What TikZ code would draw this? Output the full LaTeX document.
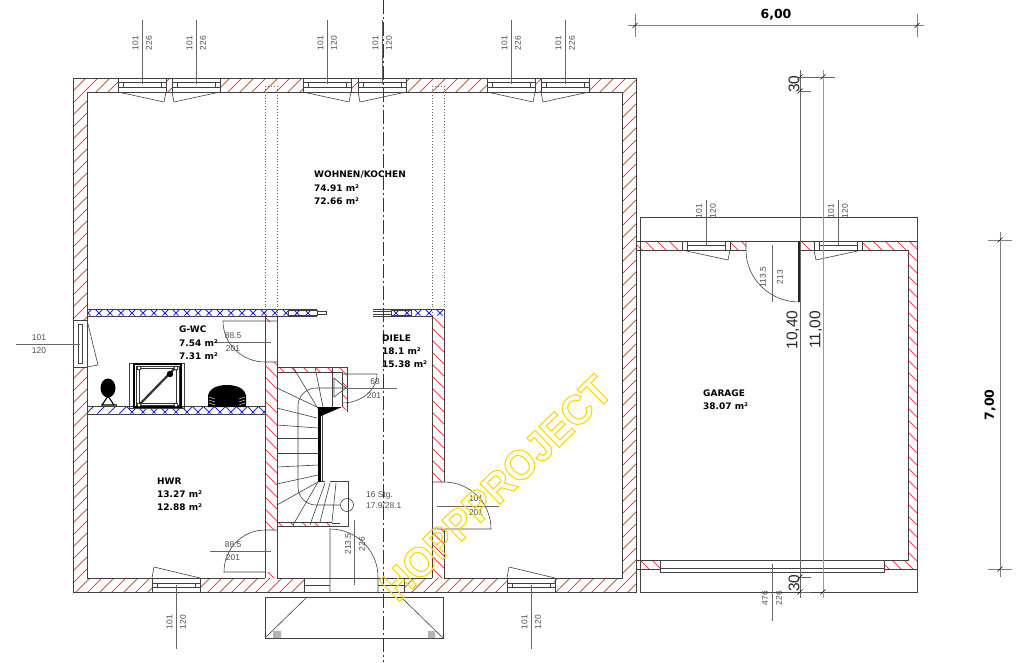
\documentclass[tikz,border=0pt]{standalone}
\usepackage{fontspec}
\setmainfont{Liberation Sans}
\newfontfamily\roomfont{DejaVu Sans}
\definecolor{hatchred}{RGB}{250,70,70}
\definecolor{hatchblue}{RGB}{30,40,235}
\definecolor{stampyellow}{RGB}{255,215,0}
\tikzset{
  wall/.style={draw=black!75, line width=.9pt},
  fine/.style={draw=black!75, line width=.6pt},
  dimline/.style={draw=black!60, line width=.8pt},
  redline/.style={draw=hatchred, line width=.8pt},
  blueline/.style={draw=hatchblue, line width=.9pt},
  dimtext/.style={inner sep=0pt, text=black!70, font=\fontsize{8.4}{10}\selectfont},
  roomtext/.style={inner sep=0pt, anchor=west, font=\roomfont\fontsize{9}{11}\selectfont\bfseries},
  bigdim/.style={inner sep=0pt, text=black!85, font=\fontsize{15.5}{17}\selectfont},
  axisdim/.style={inner sep=0pt, font=\roomfont\fontsize{12.5}{17}\selectfont\bfseries},
}
\begin{document}
\begin{tikzpicture}[x=1pt, y=-1pt]
  \useasboundingbox (0,0) rectangle (1024,662);
  % wall hatching, main house
  \begin{scope}
    \clip (73,78) rectangle (118,92) (166,78) rectangle (172,92) (220,78) rectangle (303,92)
      (352,78) rectangle (358,92) (406,78) rectangle (487,92) (536,78) rectangle (541,92)
      (590,78) rectangle (636,92)
      (73,78) rectangle (87,320) (73,367) rectangle (87,592) (622,78) rectangle (636,592)
      (73,578) rectangle (152,592) (200,578) rectangle (304,592) (404,578) rectangle (507,592)
      (554,578) rectangle (636,592);
    \foreach \d in {80,92,...,1300}
      \draw[redline] (\d,0) -- ++(-700,700);
  \end{scope}
  \begin{scope}
    \clip (265,316) rectangle (277,322) (265,362) rectangle (277,530) (265,572) rectangle (277,578)
      (432,316) rectangle (444,482) (432,529) rectangle (444,578)
      (277,367) rectangle (347,372) (342,367) rectangle (347,410) (277,522) rectangle (332,526)
      (636,241) rectangle (682,250) (730,241) rectangle (746,250) (799,241) rectangle (814,250)
      (862,241) rectangle (917,250) (908,241) rectangle (917,569)
      (636,560) rectangle (660,569) (884,560) rectangle (917,569);
    \foreach \d in {-400,-388,...,900}
      \draw[redline] (\d,0) -- ++(700,700);
  \end{scope}
  % blue hatching of the light walls
  \begin{scope}
    \clip (87,309.5) rectangle (317,315.5) (391,309.5) rectangle (444,315.5) (87,406.5) rectangle (265,413.5);
    \foreach \d in {0,11,...,900} {
      \draw[blueline] (\d,280) -- ++(-150,150);
      \draw[blueline] (\d,280) -- ++(150,150);
    }
  \end{scope}
  % outer walls
  \draw[wall] (73,78) rectangle (636,592);
  \draw[wall] (87,320) -- (87,92) -- (622,92) -- (622,578) -- (444,578) -- (444,529);
  \draw[wall] (87,367) -- (87,578) -- (265,578);
  \draw[wall] (444,482) -- (444,309) -- (373,309);
  \draw[wall] (432,578) -- (432,316) -- (373,316);
  \draw[wall] (277,578) -- (432,578);
  \draw[wall] (265,316) -- (265,578) (277,316) -- (277,578);
  \draw[wall] (87,309) -- (317,309) (87,316) -- (317,316);
  \draw[fine] (317,311) -- (326,311) -- (326,314) -- (317,314);
  \draw[fine] (288,310) rectangle (317,315) (391,310) rectangle (411,315);
  \draw[fine] (373,311) -- (391,311) (373,314) -- (391,314);
  \draw[wall] (87,406) -- (265,406) (87,414) -- (265,414);
  % dotted beams
  \foreach \bx in {265,277,432,444}
    \draw[black!60, line width=.6pt, dash pattern=on .9pt off 2pt] (\bx,86) -- (\bx,316);
  \draw[black!60, line width=.6pt, dash pattern=on .9pt off 2pt] (265,86) -- (277,86) (432,86) -- (444,86);
  % top windows
  \foreach \wx/\wh/\wt in {118/226/r, 172/226/l, 303/120/r, 358/120/l, 487/226/r, 541/226/l} {
    \draw[wall] (\wx,78) rectangle ++(48,14);
    \draw[fine] (\wx,82) -- ++(48,0) (\wx,87) -- ++(48,0) (\wx+5,82) -- ++(0,5) (\wx+43,82) -- ++(0,5);
    \draw[dimline] (\wx+24,20) -- ++(0,64);
    \node[dimtext, rotate=90] (wa\wx) at (\wx+17.5,43) {101};
    \node[dimtext, rotate=90] (wb\wx) at (\wx+31,43) {\wh};
  }
  \foreach \wx in {118,303,487}
    \draw[fine] (\wx,92) -- ++(46,10) -- ++(2,-10);
  \foreach \wx in {172,358,541}
    \draw[fine] (\wx,92) -- ++(2,10) -- ++(46,-10);
  % left window
  \draw[wall] (73,320) rectangle (87,367);
  \draw[fine] (78,324) rectangle (82,363);
  \draw[fine] (87,320) -- (98,365) -- (87,367);
  \draw[dimline] (16,344) -- (80,344);
  \node[dimtext] (leftwa) at (39,338) {101};
  \node[dimtext] (leftwb) at (39,351) {120};
  % bottom windows
  \foreach \wx in {152,507} {
    \draw[wall] (\wx,578) rectangle ++(48,14);
    \draw[fine] (\wx,583) -- ++(48,0) (\wx,587) -- ++(48,0) (\wx+5,583) -- ++(0,4) (\wx+43,583) -- ++(0,4);
    \draw[fine] (\wx,578) -- ++(2,-11) -- ++(46,11);
    \draw[dimline] (\wx+24,585) -- ++(0,64);
    \node[dimtext, rotate=90] (ba\wx) at (\wx+17.5,622) {101};
    \node[dimtext, rotate=90] (bb\wx) at (\wx+31,622) {120};
  }
  % doors of the house
  \draw[fine] (277,321) -- (223,321) arc[start angle=180, end angle=270, x radius=42pt, y radius=41pt] -- (277,362);
  \draw[dimline] (215,342) -- (271,342);
  \node[dimtext] (gwcwidth) at (233,336) {88.5};
  \node[dimtext] (gwcheight) at (233,349) {201};
  \draw[fine] (265,572) -- (224,572) arc[start angle=180, end angle=90, x radius=41pt, y radius=42pt] -- (277,530);
  \draw[dimline] (210,551) -- (271,551);
  \node[dimtext] (hwrwidth) at (233,545) {88.5};
  \node[dimtext] (hwrheight) at (233,558) {201};
  \draw[fine] (432,482) -- (444,482) arc[start angle=90, end angle=0, radius=47pt] -- (432,529);
  \draw[dimline] (437,506) -- (499,506);
  \node[dimtext] (dielewidth) at (476,499) {101};
  \node[dimtext] (dieleheight) at (476,513) {201};
  % entrance
  \draw[fine] (330,592) -- (330,529) arc[start angle=90, end angle=0, radius=48pt] -- (378,592);
  \draw[dimline] (354,520) -- (354,585);
  \node[dimtext, rotate=90] (frontwidth) at (348,544) {213.5};
  \node[dimtext, rotate=90] (frontheight) at (362,544) {226};
  \draw[fine] (304,578) -- (304,592) (404,578) -- (404,592) (304,585) -- (330,585) (378,585) -- (404,585);
  \draw[wall] (265,597) rectangle (443,638);
  \draw[fine] (265,638) -- (307,597) (443,638) -- (401,597);
  \fill[black!30] (273,631) rectangle (281,638) (428,631) rectangle (435,638);
  % stairs
  \draw[fine] (277,367) -- (347,367) -- (347,412) (277,372) -- (342,372) -- (342,407);
  \draw[fine] (277,522) -- (332,522) (277,526) -- (340,526) -- (348,526) -- (348,481) -- (330,481) (325,481) -- (318,481) (332,523) -- (340,523);
  \foreach \ax/\ay/\bx/\by in {293/367/317/407, 315/367/323/407, 332/367/332/407,
      277/388/317/407, 277/408/317/418, 277/425/318/428, 277/438/318/438, 277/453/318/453,
      277/467/318/465, 277/484/318/475, 277/505/318/482, 293/525/318/482, 310/525/325/483,
      320/522/330/483, 332/522/336/483}
    \draw[fine] (\ax,\ay) -- (\bx,\by);
  \fill[black] (318,408) rectangle (321,482);
  \draw[fine] (322,412) -- (322,482);
  \fill[black] (317,407) -- (342,407) -- (321,416) -- cycle;
  \draw[fine, rounded corners=18pt] (346,388) -- (298,388) -- (298,505) -- (340,505);
  \draw[fine] (347,505) circle[radius=6.5pt];
  \draw[fine] (342,374) -- (377,374) arc[start angle=0, end angle=-90, x radius=35pt, y radius=29pt];
  \draw[fine] (334,378) -- (346,388) -- (334,397) -- cycle;
  \draw[dimline] (346,388) -- (397,388);
  \node[dimtext] (stairwidth) at (375,382) {68};
  \node[dimtext] (stairheight) at (374,396) {201};
  \node[dimtext, anchor=west] (stairsteps) at (366,495) {16 Stg.};
  \node[dimtext, anchor=west] (stairrise) at (366,505) {17.9/28.1};
  % bathroom objects
  \fill[black] (108,388) ellipse[x radius=7.5pt, y radius=9.5pt];
  \draw[black, line width=1.1pt] (102,405) -- (108,396) -- (114,405) (101,405) -- (117,405);
  \draw[fine] (129,363) rectangle (184,408);
  \draw[black, line width=2pt] (134,364) -- (181,364);
  \draw[black, line width=1.3pt] (134,364) rectangle (181,407);
  \draw[black!80, line width=.9pt] (139,368) rectangle (176,403) (136,366) rectangle (179,405);
  \draw[black!80, line width=2.2pt] (139,405) -- (176,367);
  \fill[black] (170,374) circle[radius=3.2pt];
  \foreach \px/\py in {139/368, 176/368, 139/405, 176/405}
    \draw[black, fill=white, line width=.7pt] (\px,\py) circle[radius=2pt];
  \fill[black] (208,407) -- (208,396) .. controls (209,388) and (218,385) .. (227,385) .. controls (236,385) and (245,388) .. (246,396) -- (246,407) -- cycle;
  \foreach \sy in {397,400,403}
    \draw[white, line width=.4pt] (209,\sy) -- (215,\sy+2) (245,\sy) -- (239,\sy+2);
  % garage
  \draw[fine] (640,592) -- (640,217) -- (917,217) -- (917,592) -- cycle;
  \draw[wall] (636,241) -- (917,241) (636,250) -- (746,250) (799,250) -- (908,250) -- (908,560) -- (884,560);
  \draw[wall] (640,250) -- (640,560) (660,560) -- (636,560) (636,569) -- (660,569) (884,569) -- (917,569);
  \draw[wall] (660,560) rectangle (884,572);
  \draw[fine] (660,568) -- (884,568);
  \foreach \wx in {682,814} {
    \draw[wall] (\wx,241) rectangle ++(48,9);
    \draw[fine] (\wx+5,245) -- ++(38,0) (\wx+5,241) -- ++(0,9) (\wx+43,241) -- ++(0,9);
    \draw[dimline] (\wx+24,200) -- ++(0,45);
    \node[dimtext, rotate=90] (ga\wx) at (\wx+17,211) {101};
    \node[dimtext, rotate=90] (gb\wx) at (\wx+31,211) {120};
  }
  \draw[fine] (682,250) -- (728,260) -- (730,250);
  \draw[fine] (814,250) -- (816,260) -- (862,250);
  \draw[fine] (746,241) -- (746,250) arc[start angle=180, end angle=270, x radius=53pt, y radius=52pt];
  \draw[black!85, line width=1.2pt] (799,241) -- (799,302);
  \draw[dimline] (772,245) -- (772,302);
  \node[dimtext, rotate=90] (garagewidth) at (763,277) {113.5};
  \node[dimtext, rotate=90] (garageheight) at (780,277) {213};
  \draw[dimline] (772,564) -- (772,621);
  \node[dimtext, rotate=90] (gatewidth) at (765,598) {476};
  \node[dimtext, rotate=90] (gateheight) at (779,598) {226};
  % measure chains
  \draw[black!60, line width=.7pt] (800,70) -- (800,598) (800,77) -- (835,77) (800,91) -- (811,91) (800,577) -- (811,577) (800,592) -- (811,592);
  \draw[black!40, line width=.8pt] (823,70) -- (823,598);
  \foreach \tx/\ty in {800/77, 800/91, 823/77, 800/577, 800/592, 823/592}
    \draw[black, line width=.5pt] (\tx-2.5,\ty+2.5) -- (\tx+2.5,\ty-2.5);
  \node[bigdim, rotate=90] (topthree) at (794,84) {30};
  \node[bigdim, rotate=90] (bottomthree) at (794,583) {30};
  \node[bigdim, rotate=90] (innerlength) at (793,330) {10,40};
  \node[bigdim, rotate=90] (outerlength) at (816,330) {11,00};
  \draw[black!50, line width=.8pt] (628,25.5) -- (924,25.5) (635,14) -- (635,37) (917,14) -- (917,37);
  \draw[black!50, line width=.8pt] (1000,232) -- (1000,577) (988,240) -- (1012,240) (988,569) -- (1012,569);
  \foreach \tx/\ty in {635/25.5, 917/25.5, 1000/240, 1000/569}
    \draw[black, line width=.5pt] (\tx-2.5,\ty+2.5) -- (\tx+2.5,\ty-2.5);
  \node[axisdim] (garagewide) at (776,15) {6,00};
  \node[axisdim, rotate=90] (garagedeep) at (990,405) {7,00};
  % centre line
  \draw[black!80, line width=.7pt, dash pattern=on 14pt off 3pt on 2pt off 3pt] (383,0) -- (383,662);
  % room names
  \node[roomtext] (living) at (314,175) {WOHNEN/KOCHEN};
  \node[roomtext] (livinggross) at (314,188) {74.91 m²};
  \node[roomtext] (livingnet) at (314,201) {72.66 m²};
  \node[roomtext] (wc) at (179,329) {G-WC};
  \node[roomtext] (wcgross) at (179,343) {7.54 m²};
  \node[roomtext] (wcnet) at (179,356) {7.31 m²};
  \node[roomtext] (hall) at (382,338) {DIELE};
  \node[roomtext] (hallgross) at (382,351) {18.1 m²};
  \node[roomtext] (hallnet) at (382,364) {15.38 m²};
  \node[roomtext] (utility) at (157,481) {HWR};
  \node[roomtext] (utilitygross) at (157,494) {13.27 m²};
  \node[roomtext] (utilitynet) at (157,507) {12.88 m²};
  \node[roomtext] (garage) at (703,393) {GARAGE};
  \node[roomtext] (garagearea) at (703,406) {38.07 m²};
  % stamp
  \node[inner sep=0pt, rotate=44, xscale=.95, text=stampyellow, font=\fontsize{42}{44}\selectfont\bfseries] (stamp) at (496,488)
    {\special{pdf:code 1 Tr 1.1 w}HOPPPROJECT\special{pdf:code 0 Tr}};
\end{tikzpicture}
\end{document}
